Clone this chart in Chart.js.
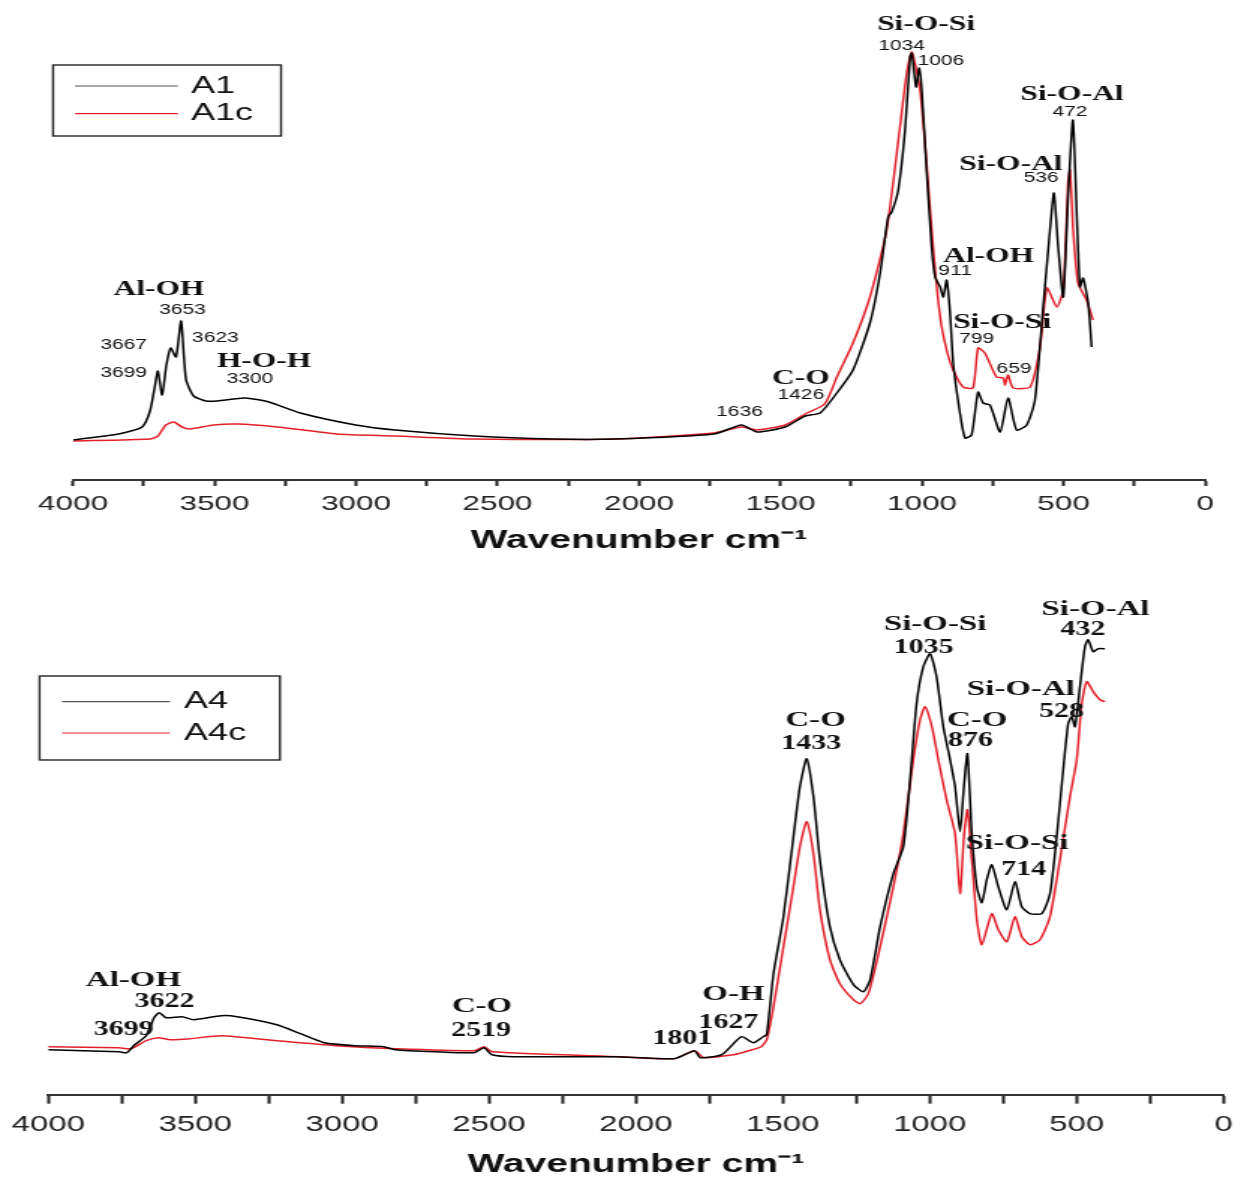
<!DOCTYPE html>
<html>
<head>
<meta charset="utf-8">
<title>FTIR spectra A1 / A1c and A4 / A4c</title>
<script src="https://cdn.jsdelivr.net/npm/chart.js@4.4.1/dist/chart.umd.min.js"></script>
<style>
    body { margin: 0; background: #fff; width: 1235px; height: 1181px; overflow: hidden; position: relative; }
    /* the original figure is stretched sideways, so the canvases are too */
    canvas { position: absolute; left: 0; transform-origin: 0 0; transform: scaleX(1.4988); }
    #topChart { top: 0; }
    #bottomChart { top: 560px; }
</style>
</head>
<body>
<canvas id="topChart" width="824" height="560"></canvas>
<canvas id="bottomChart" width="824" height="621"></canvas>
<script>
// x axis tick labels (wavenumber, cm-1)
const tickLabels = [4000, 3500, 3000, 2500, 2000, 1500, 1000, 500, 0];

// A1 (absorbance, arbitrary units)
const a1Wavenumber = [4000, 3839, 3756, 3728, 3710, 3700, 3685, 3670, 3655, 3636, 3618, 3601, 3574, 3530, 3490, 3392, 3308, 3197, 3001, 2862, 2582, 2303, 2085, 1735, 1638, 1583, 1484, 1413, 1360, 1301, 1244, 1184, 1148, 1120, 1107, 1084, 1060, 1042, 1036, 1021, 1010, 1001, 984, 966, 954, 936, 925, 913, 901, 890, 866, 848, 825, 802, 784, 760, 724, 696, 666, 630, 601, 572, 548, 534, 519, 501, 484, 467, 453, 442, 431, 413, 401];
const a1Intensity = [40, 46, 53, 69, 95, 109, 85, 115, 132, 123, 159, 101, 84, 79, 79, 82, 78, 67, 55, 50, 44, 41, 41, 46, 55, 48, 53, 64, 67, 87, 110, 157, 207, 263, 268, 290, 350, 423, 427, 393, 412, 390, 310, 233, 203, 193, 183, 200, 167, 117, 67, 42, 45, 88, 77, 75, 48, 82, 50, 55, 80, 173, 250, 287, 233, 183, 283, 360, 263, 193, 202, 177, 133];

// A1c
const a1cWavenumber = [4000, 3728, 3700, 3672, 3644, 3615, 3587, 3503, 3419, 3278, 3069, 2862, 2582, 2085, 1735, 1638, 1583, 1484, 1413, 1344, 1301, 1244, 1184, 1125, 1078, 1054, 1036, 1007, 984, 961, 936, 913, 890, 855, 820, 802, 778, 737, 713, 707, 696, 678, 618, 583, 559, 524, 501, 484, 477, 466, 449, 419, 396];
const a1cIntensity = [39, 41, 44, 55, 58, 53, 51, 55, 56, 53, 46, 44, 41, 41, 47, 53, 50, 55, 66, 76, 103, 137, 183, 250, 353, 407, 428, 390, 317, 233, 163, 130, 110, 93, 92, 132, 127, 103, 102, 95, 105, 92, 93, 133, 192, 173, 190, 297, 310, 250, 197, 180, 160];

// A4
const a4Wavenumber = [4000, 3760, 3733, 3706, 3667, 3640, 3622, 3599, 3545, 3505, 3411, 3357, 3222, 3142, 3061, 2953, 2859, 2819, 2684, 2550, 2517, 2490, 2415, 2071, 1870, 1801, 1781, 1708, 1641, 1601, 1567, 1555, 1532, 1498, 1464, 1442, 1419, 1396, 1374, 1340, 1306, 1260, 1226, 1203, 1169, 1124, 1090, 1067, 1045, 1022, 999, 977, 954, 931, 914, 897, 884, 872, 857, 840, 823, 806, 789, 767, 738, 710, 687, 659, 619, 591, 568, 546, 529, 517, 506, 489, 472, 461, 444, 427, 404];
const a4Intensity = [45, 43, 42, 50, 59, 77, 82, 77, 78, 75, 79, 78, 70, 61, 52, 49, 48, 45, 43, 42, 47, 40, 38, 38, 36, 44, 37, 40, 58, 52, 58, 60, 121, 178, 258, 308, 336, 298, 235, 168, 135, 110, 103, 115, 168, 221, 248, 315, 391, 428, 441, 418, 368, 335, 308, 263, 308, 341, 261, 208, 192, 215, 230, 208, 185, 213, 188, 181, 181, 201, 258, 325, 371, 378, 368, 408, 448, 455, 443, 446, 446];

// A4c
const a4cWavenumber = [4000, 3760, 3719, 3667, 3626, 3585, 3518, 3411, 3222, 3020, 2819, 2550, 2517, 2490, 2055, 1870, 1801, 1768, 1668, 1628, 1574, 1555, 1532, 1498, 1464, 1442, 1419, 1396, 1374, 1340, 1306, 1260, 1237, 1209, 1169, 1124, 1090, 1056, 1033, 1016, 993, 971, 943, 914, 897, 884, 872, 857, 840, 823, 789, 767, 738, 710, 687, 659, 625, 591, 557, 523, 500, 483, 466, 444, 421, 404];
const a4cIntensity = [48, 47, 46, 54, 57, 55, 56, 59, 54, 49, 46, 44, 48, 43, 38, 36, 44, 37, 40, 43, 48, 55, 88, 148, 208, 248, 273, 241, 185, 135, 111, 95, 91, 101, 148, 208, 261, 335, 375, 388, 368, 335, 295, 261, 201, 258, 285, 235, 175, 150, 181, 165, 153, 178, 158, 150, 155, 178, 235, 298, 335, 391, 413, 403, 395, 393];

// band assignments: [text, wavenumber, intensity, kind]
const a1Bands = [
    ['Al-OH', 3696, 190, 'name'], ['3653', 3613, 170, 'num'], ['3667', 3821, 135, 'num'],
    ['3623', 3497, 142, 'num'], ['3699', 3821, 107, 'num'], ['H-O-H', 3325, 118, 'name'],
    ['3300', 3375, 101, 'num'], ['1636', 1645, 68, 'num'], ['C-O', 1428, 101, 'name'],
    ['1426', 1428, 85, 'num'], ['Si-O-Si', 986, 455, 'name'], ['1034', 1072, 434, 'num'],
    ['1006', 933, 419, 'num'], ['Si-O-Al', 470, 385, 'name'], ['472', 477, 368, 'num'],
    ['Si-O-Al', 686, 315, 'name'], ['536', 579, 302, 'num'], ['Al-OH', 765, 223, 'name'],
    ['911', 883, 209, 'num'], ['Si-O-Si', 717, 157, 'name'], ['799', 807, 141, 'num'],
    ['659', 675, 111, 'num']
];
const a4Bands = [
    ['Al-OH', 3710, 114, 'name'], ['3622', 3605, 93, 'num'], ['3699', 3744, 65, 'num'],
    ['C-O', 2524, 88, 'name'], ['2519', 2527, 64, 'num'], ['O-H', 1668, 100, 'name'],
    ['1627', 1685, 72, 'num'], ['1801', 1842, 56, 'num'], ['C-O', 1389, 374, 'name'],
    ['1433', 1403, 351, 'num'], ['Si-O-Si', 982, 470, 'name'], ['1035', 1021, 447, 'num'],
    ['C-O', 839, 374, 'name'], ['876', 861, 354, 'num'], ['Si-O-Al', 436, 485, 'name'],
    ['432', 479, 465, 'num'], ['Si-O-Al', 690, 405, 'name'], ['528', 552, 383, 'num'],
    ['Si-O-Si', 703, 251, 'name'], ['714', 680, 225, 'num']
];

function toPoints(xs, ys) {
    return xs.map((x, i) => ({ x: x, y: ys[i] }));
}

// writes the band names and peak positions next to the curves
const bandLabels = {
    id: 'bandLabels',
    afterDatasetsDraw(chart, args, opts) {
        const ctx = chart.ctx;
        const x = chart.scales.x;
        const y = chart.scales.y;
        ctx.save();
        ctx.textAlign = 'center';
        ctx.textBaseline = 'middle';
        ctx.fillStyle = '#111';
        opts.items.forEach(([text, wn, h, kind]) => {
            ctx.font = kind === 'name' ? opts.nameFont : opts.numFont;
            ctx.fillText(text, x.getPixelForValue(wn), y.getPixelForValue(h));
        });
        ctx.restore();
    }
};

// framed legend in the upper left corner
const boxLegend = {
    id: 'boxLegend',
    afterDraw(chart, args, opts) {
        const ctx = chart.ctx;
        const [l, t, r, b] = opts.box;
        ctx.save();
        ctx.strokeStyle = '#222';
        ctx.lineWidth = 1.4;
        ctx.strokeRect(l, t, r - l, b - t);
        ctx.font = opts.font;
        ctx.textBaseline = 'middle';
        chart.data.datasets.forEach((ds, i) => {
            const yy = opts.rows[i];
            ctx.strokeStyle = ds.legendColor;
            ctx.lineWidth = 1.2;
            ctx.beginPath();
            ctx.moveTo(opts.line[0], yy);
            ctx.lineTo(opts.line[1], yy);
            ctx.stroke();
            ctx.fillStyle = '#111';
            ctx.fillText(ds.label, opts.textX, yy);
        });
        ctx.restore();
    }
};

function makeChart(id, cfg) {
    return new Chart(document.getElementById(id), {
        type: 'line',
        data: {
            datasets: [
                { label: cfg.names[0], data: cfg.series[0], borderColor: '#000', legendColor: '#555', borderWidth: 1.5, pointRadius: 0, tension: 0.2 },
                { label: cfg.names[1], data: cfg.series[1], borderColor: '#e3202a', legendColor: '#e3202a', borderWidth: 1.5, pointRadius: 0, tension: 0.2 }
            ]
        },
        options: {
            responsive: false,
            animation: false,
            layout: { padding: cfg.padding },
            scales: {
                x: {
                    type: 'linear',
                    min: 0,
                    max: 4000,
                    reverse: true,
                    afterFit: (scale) => {
                        // keep the plot edges where the layout padding puts them
                        scale.height = cfg.axisHeight;
                        scale.paddingLeft = 0;
                        scale.paddingRight = 0;
                    },
                    border: { display: true, color: '#333', width: 2 },
                    grid: { display: true, drawOnChartArea: false, drawTicks: true, tickLength: cfg.tickLength, tickWidth: 2, tickColor: '#222' },
                    ticks: {
                        stepSize: 250,
                        autoSkip: false,
                        maxRotation: 0,
                        padding: cfg.tickPadding,
                        color: '#222',
                        font: { family: 'Liberation Sans', size: cfg.tickSize },
                        callback: (v) => tickLabels.includes(v) ? String(v) : ''
                    },
                    title: {
                        display: true,
                        text: 'Wavenumber cm⁻¹',
                        color: '#111',
                        font: { family: 'Liberation Sans', weight: 'bold', size: 26 },
                        padding: { top: 0, bottom: cfg.titlePad }
                    }
                },
                y: { display: false, min: 0, max: cfg.yMax }
            },
            plugins: {
                legend: { display: false },
                tooltip: { enabled: false },
                bandLabels: cfg.bands,
                boxLegend: cfg.legend
            }
        },
        plugins: [bandLabels, boxLegend]
    });
}

makeChart('topChart', {
    names: ['A1', 'A1c'],
    series: [toPoints(a1Wavenumber, a1Intensity), toPoints(a1cWavenumber, a1cIntensity)],
    padding: { left: 48.7, right: 20, top: 10, bottom: 0 },
    axisHeight: 80,
    yMax: 470,
    tickLength: 6,
    tickPadding: 6,
    tickSize: 21,
    titlePad: 3.4,
    bands: { items: a1Bands, nameFont: 'bold 21px "Liberation Serif"', numFont: '14px "Liberation Sans"' },
    legend: { box: [35.4, 65, 187.5, 136], line: [50, 118.8], rows: [86, 113.6], textX: 127.4, font: '24px "Liberation Sans"' }
});

makeChart('bottomChart', {
    names: ['A4', 'A4c'],
    series: [toPoints(a4Wavenumber, a4Intensity), toPoints(a4cWavenumber, a4cIntensity)],
    padding: { left: 32.2, right: 7.6, top: 10, bottom: 0 },
    axisHeight: 86.3,
    yMax: 524.7,
    tickLength: 9,
    tickPadding: 8,
    tickSize: 22,
    titlePad: 0.4,
    bands: { items: a4Bands, nameFont: 'bold 22px "Liberation Serif"', numFont: 'bold 20px "Liberation Serif"' },
    legend: { box: [26.4, 116, 186.8, 200], line: [41.4, 113.4], rows: [141.7, 173], textX: 122.8, font: '24px "Liberation Sans"' }
});
</script>
</body>
</html>
